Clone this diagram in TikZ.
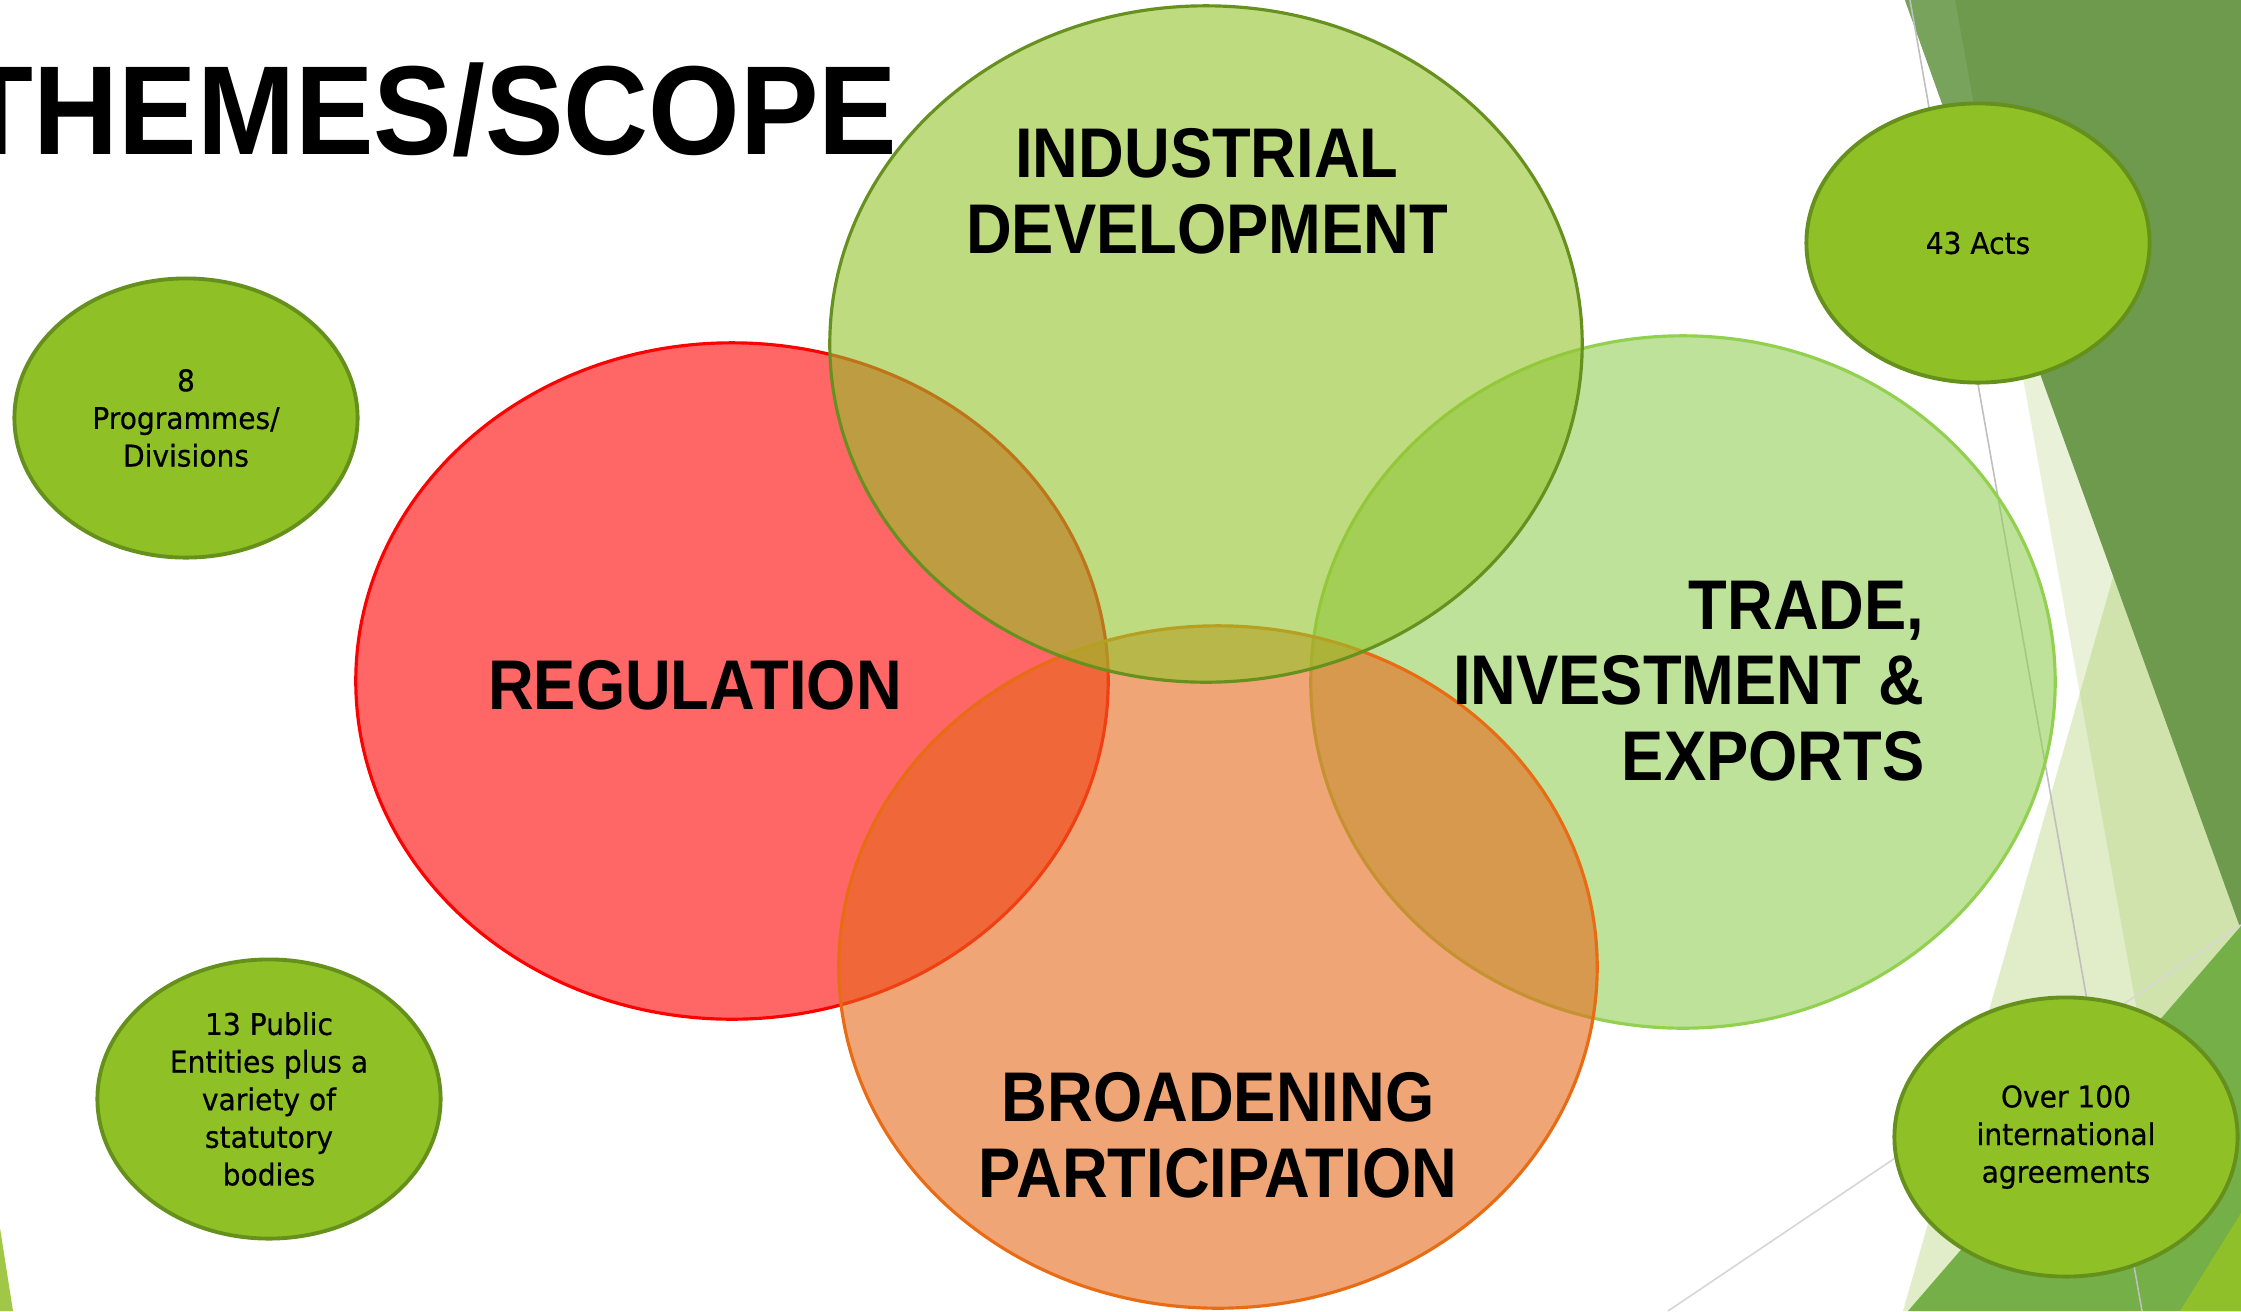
\documentclass[tikz,border=0pt]{standalone}
\usepackage{fontspec}
\usetikzlibrary{shapes.geometric}
\newfontfamily\titlefont[FakeStretch=0.93]{Liberation Sans}
\newfontfamily\labelfont[FakeStretch=0.9]{Liberation Sans}
\newfontfamily\notefont[FakeStretch=0.94,FakeBold=0.6]{DejaVu Sans}
\definecolor{regfill}{RGB}{255,0,0}
\definecolor{regline}{RGB}{255,0,0}
\definecolor{indfill}{RGB}{147,195,43}
\definecolor{indline}{RGB}{103,145,31}
\definecolor{trdfill}{RGB}{147,207,87}
\definecolor{trdline}{RGB}{146,208,80}
\definecolor{brdfill}{RGB}{230,105,28}
\definecolor{brdline}{RGB}{232,108,20}
\definecolor{notefill}{RGB}{143,193,39}
\definecolor{noteedge}{RGB}{102,144,28}
\definecolor{darkfacet}{RGB}{110,154,77}
\definecolor{darkfacetlight}{RGB}{120,163,92}
\definecolor{midfacet}{RGB}{116,175,72}
\definecolor{yelfacet}{RGB}{143,192,42}
\definecolor{palefacetA}{RGB}{169,204,106}
\definecolor{palefacetB}{RGB}{156,195,74}
\definecolor{cornerfacet}{RGB}{160,200,70}
\definecolor{rulegrey}{RGB}{191,191,191}
\definecolor{rulegreylight}{RGB}{214,214,214}
\begin{document}
\begin{tikzpicture}[x=0.01cm,y=-0.01cm,
  venn/.style={line width=0.9pt, fill opacity=0.6},
  bigtext/.style={font=\labelfont\bfseries\fontsize{20}{21.5}\selectfont, inner sep=0pt, align=center, text=black},
  note/.style={ellipse, draw=noteedge, fill=notefill, line width=1.1pt, inner sep=0pt,
    minimum width=3.43cm, minimum height=2.79cm, align=center,
    font=\notefont\fontsize{8.5}{10.7}\selectfont},
  facetline/.style={draw=rulegrey, line width=0.45pt}]
\useasboundingbox (0,0) rectangle (2241,1311);
\clip (0,0) rectangle (2241,1311);
\fill[white] (0,0) rectangle (2241,1311);
% background facets
\fill[palefacetA, opacity=0.25] (1955,0) -- (2241,0) -- (2241,1311) -- (2191,1311) -- cycle;
\fill[palefacetB, opacity=0.3] (1903,1311) -- (2241,130) -- (2241,1311) -- cycle;
\fill[darkfacet] (1905,0) -- (2241,0) -- (2241,930) -- cycle;
\fill[darkfacetlight] (1905,0) -- (1955,0) -- (2006,283) -- cycle;
\fill[midfacet] (1908,1311) -- (2241,926) -- (2241,1311) -- cycle;
\fill[yelfacet] (2180,1311) -- (2241,1213) -- (2241,1311) -- cycle;
\fill[cornerfacet] (0,1228) -- (13,1311) -- (0,1311) -- cycle;
\draw[facetline] (1910,0) -- (2142,1311);
\draw[facetline, draw=rulegreylight] (1668,1311) -- (2241,925);
% title
\node[font=\titlefont\bfseries\fontsize{36}{40}\selectfont, anchor=base east, inner sep=0pt] (title) at (898,154) {THEMES/SCOPE};
% venn ellipses
\draw[venn, draw=regline, fill=regfill] (732,681) ellipse [x radius=3.76cm, y radius=3.38cm];
\draw[venn, draw=trdline, fill=trdfill] (1683,682) ellipse [x radius=3.72cm, y radius=3.46cm];
\draw[venn, draw=brdline, fill=brdfill] (1218,967) ellipse [x radius=3.79cm, y radius=3.41cm];
\draw[venn, draw=indline, fill=indfill] (1206,344) ellipse [x radius=3.76cm, y radius=3.38cm];
% venn labels
\node[bigtext] (ind) at (1207,191) {INDUSTRIAL\\DEVELOPMENT};
\node[bigtext, anchor=base] (reg) at (695,709) {REGULATION};
\node[bigtext, align=right, anchor=east] (trade) at (1925,681) {TRADE,\\INVESTMENT \&\\EXPORTS};
\node[bigtext] (broad) at (1218,1135) {BROADENING\\PARTICIPATION};
% notes
\node[note] (prog) at (186,418) {8\\Programmes/\\Divisions};
\node[note] (pub) at (269,1099) {13 Public\\Entities plus a\\variety of\\statutory\\bodies};
\node[note] (acts) at (1978,243) {43 Acts};
\node[note] (intl) at (2066,1137) {Over 100\\international\\agreements};
\end{tikzpicture}
\end{document}
